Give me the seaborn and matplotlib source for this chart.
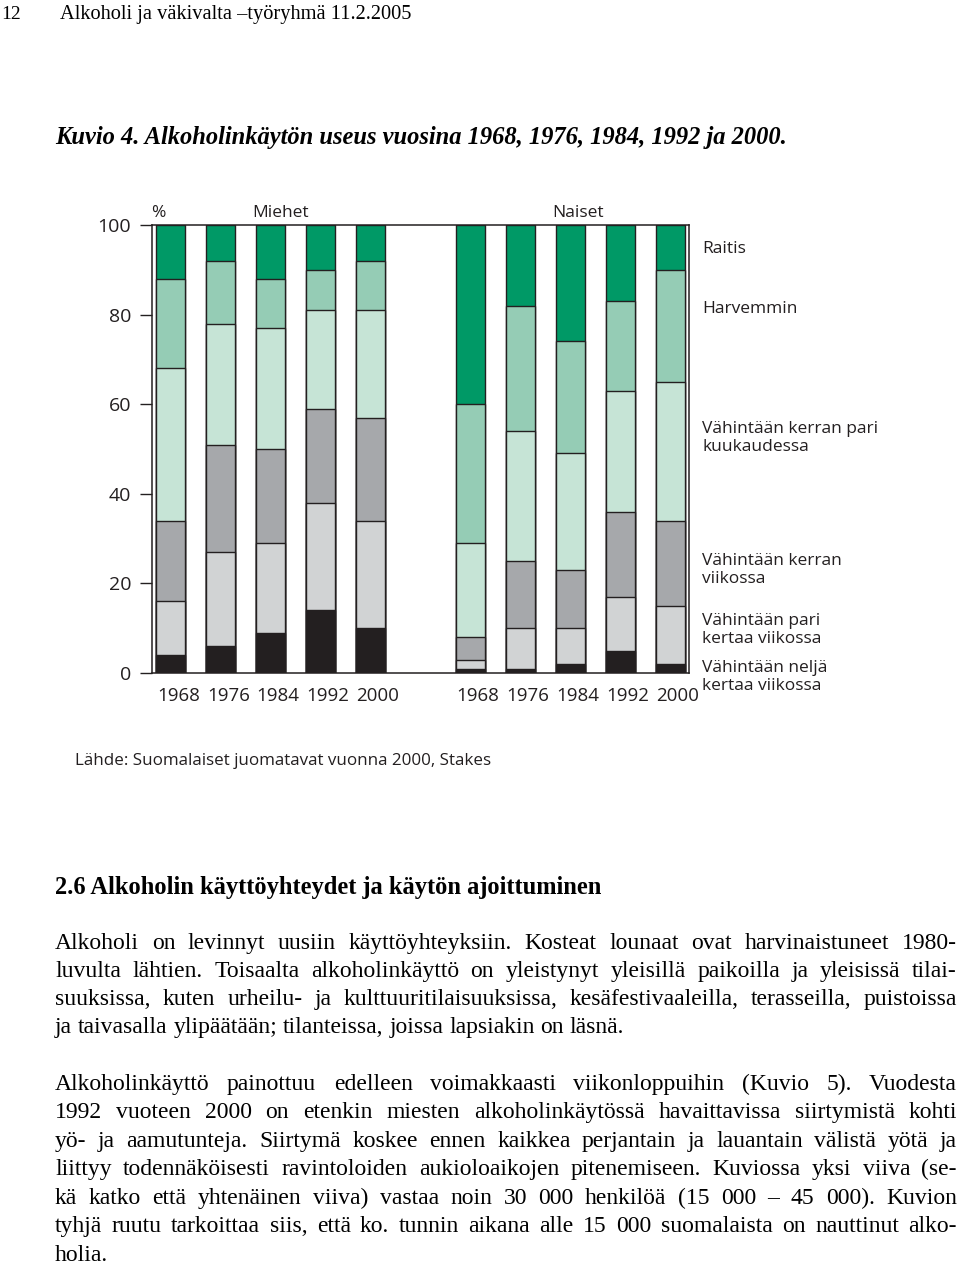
import matplotlib
matplotlib.use("Agg")
import matplotlib.pyplot as plt
import matplotlib.transforms as mtransforms
import pandas as pd
import seaborn as sns

W, H = 960, 1264
sns.set_theme(style="white")
plt.rcParams['font.family'] = ['Open Sans', 'DejaVu Sans']
SERIF = ['Liberation Serif', 'DejaVu Serif']

# ---------------- data ----------------
years = [1968, 1976, 1984, 1992, 2000]
groups = ["Miehet", "Naiset"]
categories = [
    "Vähintään neljä\nkertaa viikossa",
    "Vähintään pari\nkertaa viikossa",
    "Vähintään kerran\nviikossa",
    "Vähintään kerran pari\nkuukaudessa",
    "Harvemmin",
    "Raitis",
]
# Miehet (men), % by year
nelja_m = [4, 6, 9, 14, 10]
pari_m = [12, 21, 20, 24, 24]
viikko_m = [18, 24, 21, 21, 23]
kuukausi_m = [34, 27, 27, 22, 24]
harvemmin_m = [20, 14, 11, 9, 11]
raitis_m = [12, 8, 12, 10, 8]
# Naiset (women), % by year
nelja_w = [1, 1, 2, 5, 2]
pari_w = [2, 9, 8, 12, 13]
viikko_w = [5, 15, 13, 19, 19]
kuukausi_w = [21, 29, 26, 27, 31]
harvemmin_w = [31, 28, 25, 20, 25]
raitis_w = [40, 18, 26, 17, 10]
yticks = [0, 20, 40, 60, 80, 100]

colors = ["#231f20", "#d1d3d4", "#a6a8ab", "#c6e4d6", "#95ccb5", "#009966"]

men = [nelja_m, pari_m, viikko_m, kuukausi_m, harvemmin_m, raitis_m]
women = [nelja_w, pari_w, viikko_w, kuukausi_w, harvemmin_w, raitis_w]
positions = [0, 1, 2, 3, 4, 6, 7, 8, 9, 10]

rows = []
for ci, cat in enumerate(categories):
    for i, yr in enumerate(years):
        rows.append(dict(pos=positions[i], sex=groups[0], year=yr, cat=cat, value=men[ci][i]))
        rows.append(dict(pos=positions[5 + i], sex=groups[1], year=yr, cat=cat, value=women[ci][i]))
df = pd.DataFrame(rows)
df["cum"] = df.groupby("pos")["value"].cumsum()

# ---------------- figure ----------------
fig = plt.figure(figsize=(W / 100, H / 100), dpi=100)
fig.patch.set_facecolor("white")
ax = fig.add_axes([152 / W, 1 - 673 / H, (689 - 152) / W, (673 - 225) / H])

for ci in reversed(range(len(categories))):
    sub = df[df["cat"] == categories[ci]]
    sns.barplot(data=sub, x="pos", y="cum", native_scale=True, width=0.58,
                color=colors[ci], saturation=1, edgecolor="#231f20",
                linewidth=1.0, errorbar=None, ax=ax)

ax.set_xlim(-0.38, 10.38)
ax.set_ylim(0, 100)
ax.set_xticks(positions)
ax.set_xticklabels([str(y) for y in years] * 2)
ax.set_yticks(yticks)
ax.set_yticklabels([str(v) for v in yticks])
ax.set_xlabel("")
ax.set_ylabel("")
ax.tick_params(axis="y", left=True, direction="out", length=9, width=1.0,
               color="#231f20", pad=6, labelsize=14, labelcolor="#231f20")
ax.tick_params(axis="x", bottom=False, length=0, pad=10, labelsize=13.5,
               labelcolor="#231f20")
shift = mtransforms.ScaledTranslation(-14 / 100, 0, fig.dpi_scale_trans)
for lab in ax.get_xticklabels():
    lab.set_ha("left")
    lab.set_transform(lab.get_transform() + shift)
for s in ax.spines.values():
    s.set_visible(True)
    s.set_color("#231f20")
    s.set_linewidth(1.1)
ax.set_facecolor("white")

def px(x, y):
    return x / W, 1 - y / H

def ftext(x, y, s, **kw):
    return fig.text(*px(x, y), s, **kw)

# chart headers
ftext(151, 213, "%", fontsize=12.5, va="center", ha="left", color="#231f20")
ftext(281, 213, groups[0], fontsize=12.5, va="center", ha="center", color="#231f20")
ftext(578, 213, groups[1], fontsize=12.5, va="center", ha="center", color="#231f20")

# legend labels (right side)
leg_y = [677, 630, 570, 438, 309, 249]
for ci, cat in enumerate(categories):
    ftext(702, leg_y[ci], cat, fontsize=12.5, va="center", ha="left",
          color="#231f20", linespacing=1.1)

renderer = fig.canvas.get_renderer()

def width_of(s, **kw):
    t = fig.text(0, 0, s, **kw)
    w = t.get_window_extent(renderer).width
    t.remove()
    return w

def fit_text(x, y, s, target, base=14, **kw):
    fs = base * target / width_of(s, fontsize=base, **kw)
    return ftext(x, y, s, fontsize=fs, **kw)

# source
fit_text(75, 765, "Lähde: Suomalaiset juomatavat vuonna 2000, Stakes", 417,
         base=11, va="baseline", ha="left", color="#231f20")

# page header
ftext(1, 19, "12", fontsize=14, family=SERIF, va="baseline", ha="left", color="black")
fit_text(60, 19, "Alkoholi ja väkivalta –työryhmä 11.2.2005", 353, base=14,
         family=SERIF, va="baseline", ha="left", color="black")

# figure caption
fit_text(55, 144, "Kuvio 4. Alkoholinkäytön useus vuosina 1968, 1976, 1984, 1992 ja 2000.",
         735, base=16, family=SERIF, style="italic", weight="bold",
         va="baseline", ha="left", color="black")

# section heading
fit_text(55, 894, "2.6 Alkoholin käyttöyhteydet ja käytön ajoittuminen", 551,
         base=16, family=SERIF, weight="bold", va="baseline", ha="left", color="black")

para1 = [
    "Alkoholi on levinnyt uusiin käyttöyhteyksiin. Kosteat lounaat ovat harvinaistuneet 1980-",
    "luvulta lähtien. Toisaalta alkoholinkäyttö on yleistynyt yleisillä paikoilla ja yleisissä tilai-",
    "suuksissa, kuten urheilu- ja kulttuuritilaisuuksissa, kesäfestivaaleilla, terasseilla, puistoissa",
    "ja taivasalla ylipäätään; tilanteissa, joissa lapsiakin on läsnä.",
]
para2 = [
    "Alkoholinkäyttö painottuu edelleen voimakkaasti viikonloppuihin (Kuvio 5). Vuodesta",
    "1992 vuoteen 2000 on etenkin miesten alkoholinkäytössä havaittavissa siirtymistä kohti",
    "yö- ja aamutunteja. Siirtymä koskee ennen kaikkea perjantain ja lauantain välistä yötä ja",
    "liittyy todennäköisesti ravintoloiden aukioloaikojen pitenemiseen. Kuviossa yksi viiva (se-",
    "kä katko että yhtenäinen viiva) vastaa noin 30 000 henkilöä (15 000 – 45 000). Kuvion",
    "tyhjä ruutu tarkoittaa siis, että ko. tunnin aikana alle 15 000 suomalaista on nauttinut alko-",
    "holia.",
]
p1_y = [949, 977, 1005, 1033]
p2_y = [1090, 1118, 1147, 1175, 1204, 1232, 1261]

X0, X1 = 55, 957
base_fs = 15.0

def word_widths(line, fs):
    return [width_of(w, fontsize=fs, family=SERIF) for w in line.split(" ")]

# choose body font size so that every justified line fits with a modest minimum gap
need = 0.0
for para in (para1, para2):
    for line in para[:-1]:
        ws = word_widths(line, base_fs)
        min_gap = 0.2 * base_fs * 100 / 72
        need = max(need, sum(ws) + (len(ws) - 1) * min_gap)
body_fs = min(17.0, base_fs * (X1 - X0) / need)
space_w = 0.25 * body_fs * 100 / 72

def set_line(line, y, justify):
    words = line.split(" ")
    ws = word_widths(line, body_fs)
    if justify and len(words) > 1:
        gap = (X1 - X0 - sum(ws)) / (len(words) - 1)
    else:
        gap = space_w
    x = X0
    for w, wd in zip(words, ws):
        ftext(x, y, w, fontsize=body_fs, family=SERIF, va="baseline", ha="left", color="black")
        x += wd + gap

for para, ys in ((para1, p1_y), (para2, p2_y)):
    for i, (line, y) in enumerate(zip(para, ys)):
        set_line(line, y, justify=(i < len(para) - 1))

fig.savefig("out.png", dpi=100, facecolor="white")
